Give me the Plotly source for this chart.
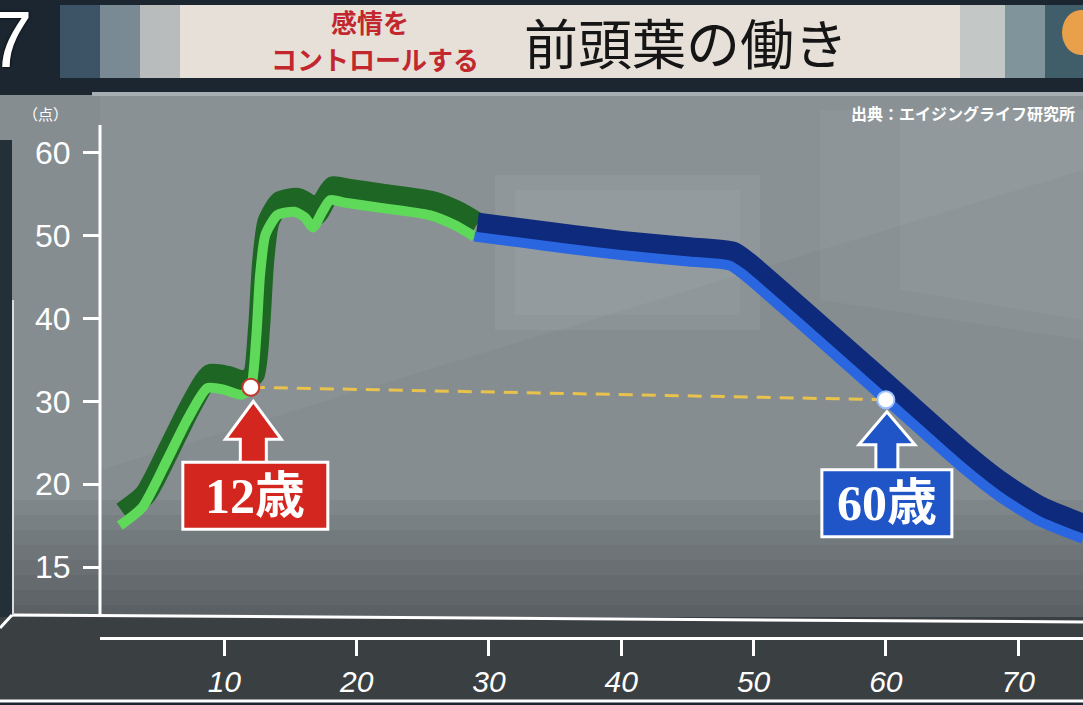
import plotly.graph_objects as go

# ---------------- data ----------------
green_age = [2.1, 3.8, 5.7, 7.2, 8.7, 10.0, 11.3, 12.0, 12.4, 12.7, 13.1, 14.0, 15.3, 16.1, 16.7,
             17.4, 18.0, 19.1, 21.7, 25.5, 27.4, 28.9]
green_score = [17.5, 18.6, 23.0, 27.8, 31.6, 31.4, 30.8, 31.7, 37.5, 45.3, 50.1, 52.5, 52.9, 52.2, 51.0,
               52.9, 54.3, 54.0, 53.4, 52.5, 51.3, 49.9]
blue_age = [28.9, 32.3, 36.1, 39.8, 45.1, 48.2, 49.3, 60.0, 65.5, 68.5, 71.5, 74.9]
blue_score = [49.9, 49.2, 48.4, 47.7, 46.9, 46.4, 45.2, 30.2, 22.4, 19.3, 17.8, 16.7]
marker_age = [12, 60]
marker_score = [31.7, 30.2]
marker_text = ["12歳", "60歳"]
y_ticks = [15, 20, 30, 40, 50, 60]
x_ticks = [10, 20, 30, 40, 50, 60, 70]

title_red_1 = "感情を"
title_red_2 = "コントロールする"
title_main = "前頭葉の働き"
source_text = "出典：エイジングライフ研究所"
unit_text = "（点）"


# broken axis: 15-20 occupies the same height as 10 points
def pos(v):
    return v if v >= 20 else 20 - (20 - v) * 2


W, H = 1083, 705
CJK = "Noto Sans CJK JP"


def px(x):
    return x / W


def py(y):
    return 1 - y / H


shapes = []


def rect(x0, y0, x1, y1, color, opacity=1.0, layer="below"):
    shapes.append(dict(type="rect", xref="paper", yref="paper", x0=px(x0), x1=px(x1),
                       y0=py(y1), y1=py(y0), fillcolor=color, opacity=opacity,
                       line=dict(width=0), layer=layer))


def line(x0, y0, x1, y1, color="white", width=3):
    shapes.append(dict(type="line", xref="paper", yref="paper", x0=px(x0), x1=px(x1),
                       y0=py(y0), y1=py(y1), line=dict(color=color, width=width), layer="below"))


def poly(pts, color, opacity=1.0):
    d = "M " + " L ".join(f"{px(a):.5f},{py(b):.5f}" for a, b in pts) + " Z"
    shapes.append(dict(type="path", xref="paper", yref="paper", path=d, fillcolor=color,
                       opacity=opacity, line=dict(width=0), layer="below"))


# ---------- backgrounds ----------
rect(0, 95, 1083, 617, "#858d91")
poly([(100, 95), (1083, 95), (1083, 170), (100, 470)], "white", 0.04)
poly([(820, 110), (1083, 110), (1083, 340), (820, 300)], "white", 0.04)
poly([(900, 110), (1083, 110), (1083, 320), (900, 290)], "white", 0.04)
rect(495, 175, 760, 330, "white", 0.06)
rect(515, 190, 740, 315, "white", 0.04)
for k in range(8):
    rect(0, 500 + k * 15, 1083, 617, "black", 0.045)
rect(0, 140, 12, 617, "#243038")
rect(0, 617, 1083, 700, "#3a3f42")
# banner
rect(60, 5, 100, 78, "#3d5467")
rect(100, 5, 140, 78, "#7a8a95")
rect(140, 5, 180, 78, "#b9bcbc")
rect(180, 5, 960, 78, "#e6e0d8")
rect(960, 5, 1005, 78, "#c3c7c6")
rect(1005, 5, 1045, 78, "#7f949b")
rect(1045, 5, 1083, 78, "#3f5e6a")
rect(92, 92, 1083, 96, "#a6aeb1")
shapes.append(dict(type="circle", xref="paper", yref="paper", x0=px(1062), x1=px(1100),
                   y0=py(55), y1=py(10), fillcolor="#e8a04a", line=dict(width=0), layer="below"))
# floor lines
line(12, 615, 1083, 622)
line(0, 628, 12, 615)
line(0, 701, 1083, 701)
line(13, 300, 13, 615, "#d8dcde", 2)
# y axis line
line(100, 125, 100, 617)

# ---------- arrows and label boxes (pixel offsets anchored to the points) ----------
box_style = [
    dict(color="#d3261e", box=(-68, 77, -142, -75), tip=-14, head=-52, hw=28, sw=13, bottom=-78, cx=2.5),
    dict(color="#1f55c6", box=(-64, 66, -137, -70), tip=-12, head=-45, hw=28, sw=11, bottom=-72, cx=1),
]
for a, s, st in zip(marker_age, marker_score, box_style):
    cx = st["cx"]
    path = (f"M {cx},{st['tip']} L {cx + st['hw']},{st['head']} L {cx + st['sw']},{st['head']} "
            f"L {cx + st['sw']},{st['bottom']} L {cx - st['sw']},{st['bottom']} "
            f"L {cx - st['sw']},{st['head']} L {cx - st['hw']},{st['head']} Z")
    shapes.append(dict(type="path", xref="x", yref="y", xsizemode="pixel", ysizemode="pixel",
                       xanchor=a, yanchor=pos(s), path=path, fillcolor=st["color"],
                       line=dict(color="white", width=3), layer="above"))
    x0, x1, y0, y1 = st["box"]
    shapes.append(dict(type="rect", xref="x", yref="y", xsizemode="pixel", ysizemode="pixel",
                       xanchor=a, yanchor=pos(s), x0=x0, x1=x1, y0=y0, y1=y1,
                       fillcolor=st["color"], line=dict(color="white", width=3), layer="above"))

# ---------- traces ----------
DX, DY = 0.23, 1.57
fig = go.Figure()
fig.add_trace(go.Scatter(x=[a + DX for a in green_age], y=[pos(v) + DY for v in green_score],
                         mode="lines", line=dict(color="#1e6624", width=22, shape="spline", smoothing=0.6),
                         hoverinfo="skip"))
fig.add_trace(go.Scatter(x=[a + DX for a in blue_age], y=[pos(v) + DY for v in blue_score],
                         mode="lines", line=dict(color="#0e2a7c", width=22, shape="spline", smoothing=0.6),
                         hoverinfo="skip"))
fig.add_trace(go.Scatter(x=green_age, y=[pos(v) for v in green_score], mode="lines",
                         line=dict(color="#5fd95a", width=10, shape="spline", smoothing=0.6)))
fig.add_trace(go.Scatter(x=blue_age, y=[pos(v) for v in blue_score], mode="lines",
                         line=dict(color="#2a66e0", width=10, shape="spline", smoothing=0.6)))
fig.add_trace(go.Scatter(x=marker_age, y=[pos(v) for v in marker_score], mode="lines",
                         line=dict(color="#e9c24c", width=3, dash="14px,9px")))
fig.add_trace(go.Scatter(x=marker_age, y=[pos(v) for v in marker_score], mode="markers",
                         marker=dict(size=17, color="white",
                                     line=dict(color=["#c0392b", "#9cc0ff"], width=2))))

# ---------- annotations ----------
ann = []
shifts = [(4.5, -108.5), (1, -103.5)]
for a, s, t, (xs, ys) in zip(marker_age, marker_score, marker_text, shifts):
    ann.append(dict(x=a, y=pos(s), xref="x", yref="y", text=t, showarrow=False,
                    xshift=xs, yshift=ys, xanchor="center", yanchor="middle",
                    font=dict(family="Liberation Serif, " + CJK, size=50, color="white", weight="bold")))
ann += [
    dict(x=px(370), y=py(21), text=title_red_1, font=dict(family=CJK, size=26, color="#c1272d", weight="bold")),
    dict(x=px(375), y=py(58), text=title_red_2, font=dict(family=CJK, size=26, color="#c1272d", weight="bold")),
    dict(x=px(686), y=py(42), text=title_main, font=dict(family=CJK, size=54, color="#151515")),
    dict(x=px(1077), y=py(113), xanchor="right", text=source_text,
         font=dict(family=CJK, size=16, color="white", weight="bold")),
    dict(x=px(45), y=py(113), text=unit_text, font=dict(family=CJK, size=15, color="white")),
    dict(x=px(10), y=py(40), text="7",
         font=dict(family="Liberation Sans", size=80, color="white", shadow="0px 0px 3px #000")),
]
for d in ann[2:]:
    d.setdefault("xanchor", "center")
    d.update(xref="paper", yref="paper", showarrow=False, yanchor="middle")

fig.update_layout(
    width=W, height=H, margin=dict(l=0, r=0, t=0, b=0),
    paper_bgcolor="#1b2631", plot_bgcolor="rgba(0,0,0,0)", showlegend=False,
    shapes=shapes, annotations=ann,
    xaxis=dict(domain=[100 / W, 1], range=[0.6, 74.9], showgrid=False, zeroline=False,
               showline=True, linecolor="white", linewidth=3, ticks="outside", ticklen=16,
               tickwidth=3, tickcolor="white", tickvals=x_ticks, ticklabelstandoff=0,
               tickfont=dict(family="Liberation Sans", size=30, color="white", style="italic")),
    yaxis=dict(domain=[1 - 637 / H, 1 - 95 / H], range=[1.55, 67.0], showgrid=False,
               zeroline=False, showline=False, ticks="outside", ticklen=16, tickwidth=3,
               tickcolor="white", tickvals=[pos(t) for t in y_ticks],
               ticktext=[str(t) for t in y_ticks], ticklabelstandoff=6,
               tickfont=dict(family="Liberation Sans", size=32, color="white")),
)

fig.write_html("out.html", config={"displayModeBar": False},
               post_script="document.body.style.margin='0';document.body.style.overflow='hidden';")
